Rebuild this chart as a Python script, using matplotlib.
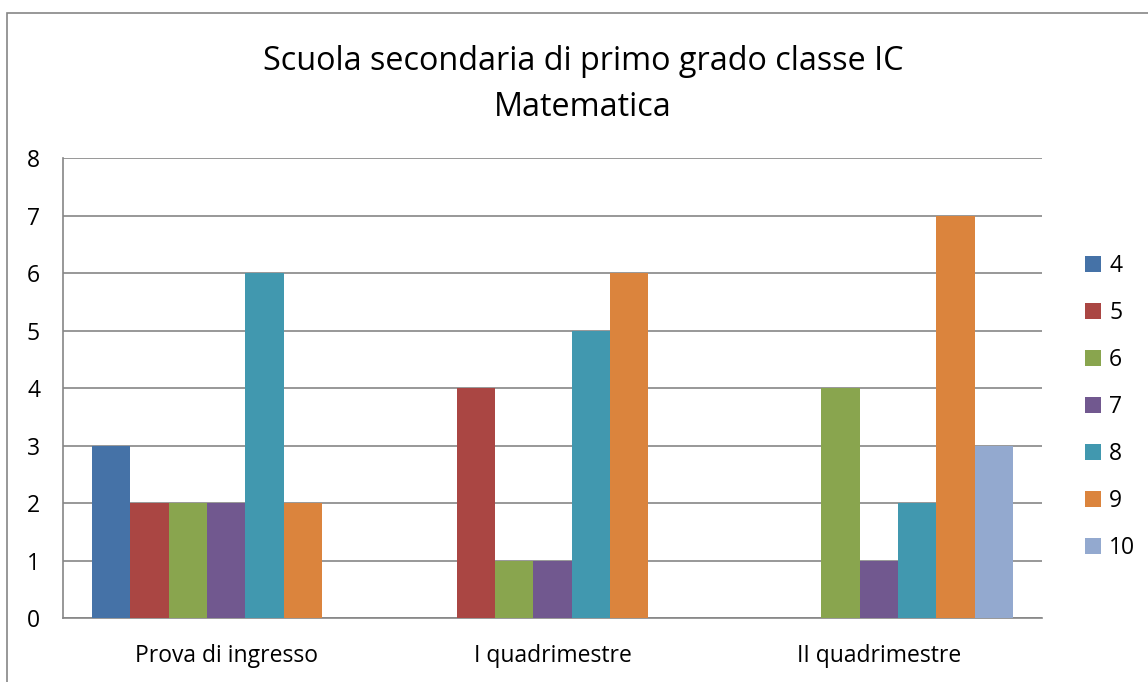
import numpy as np
import matplotlib
matplotlib.use('Agg')
from matplotlib import pyplot as plt
from matplotlib.patches import Rectangle

plt.rcParams['font.family'] = ['Open Sans', 'DejaVu Sans']

# data
categories = ['Prova di ingresso', 'I quadrimestre', 'II quadrimestre']
series_names = ['4', '5', '6', '7', '8', '9', '10']
v4 = [3, 0, 0]
v5 = [2, 4, 0]
v6 = [2, 1, 4]
v7 = [2, 1, 1]
v8 = [6, 5, 2]
v9 = [2, 6, 7]
v10 = [0, 0, 3]
values = [v4, v5, v6, v7, v8, v9, v10]
colors = ['#4572A7', '#AA4643', '#89A54E', '#71588F', '#4198AF', '#DB843D', '#93A9CF']

fig = plt.figure(figsize=(11.48, 6.82), dpi=100)
ax = fig.add_axes([0.0549, 0.0938, 0.8528, 0.6745])

x = np.arange(len(categories))
w = 0.1175
for i, (name, vals, c) in enumerate(zip(series_names, values, colors)):
    ax.bar(x + (i - 3) * w, vals, w, color=c, label=name, zorder=3)

ax.set_xlim(-0.5, 2.5)
ax.set_ylim(0, 8)
ax.set_yticks(range(0, 9))
ax.set_xticks(x)
ax.set_xticklabels(categories, fontsize=16.5)
ax.tick_params(axis='y', labelsize=16.5, length=0, pad=16.5)
ax.tick_params(axis='x', length=0, pad=19)
ax.grid(axis='y', color='#868686', linewidth=1.2, zorder=0)
for s in ['top', 'right']:
    ax.spines[s].set_visible(False)
for s in ['left', 'bottom']:
    ax.spines[s].set_color('#868686')
    ax.spines[s].set_linewidth(1.2)

fig.text(0.508, 0.910, 'Scuola secondaria di primo grado classe IC', ha='center', va='center', fontsize=23.3)
fig.text(0.508, 0.843, 'Matematica', ha='center', va='center', fontsize=23.3)

leg = ax.legend(loc='center left', bbox_to_anchor=(1.023, 0.459), frameon=False, fontsize=16.5,
                handlelength=0.7, handleheight=0.7, handletextpad=0.35, labelspacing=1.0)

# chart area border
fig.patches.append(Rectangle((7 / 1148, -0.1), 1.2, (682 - 13) / 682 + 0.1, transform=fig.transFigure,
                             fill=False, edgecolor='#868686', linewidth=1.2))

plt.savefig('out.png', dpi=100)
